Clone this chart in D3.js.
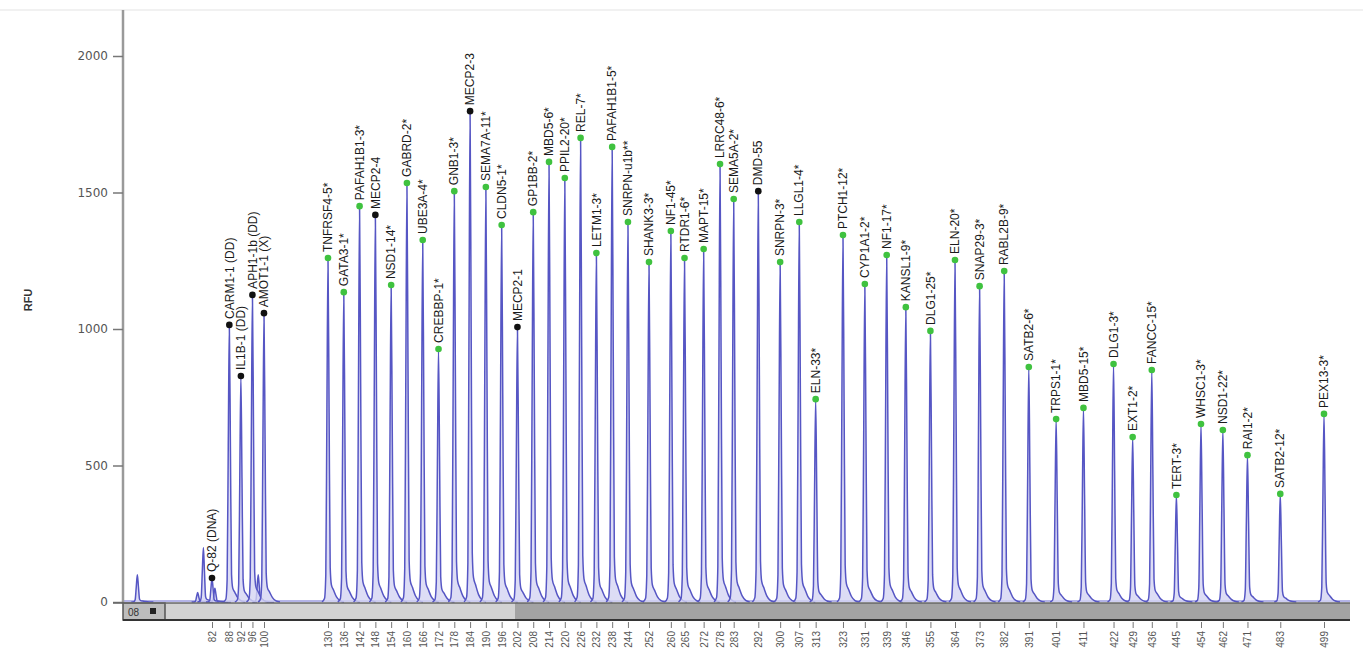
<!DOCTYPE html>
<html>
<head>
<meta charset="utf-8">
<script src="https://cdn.jsdelivr.net/npm/d3@7"></script>
<style>
  body { margin: 0; background: #fff; }
  svg { display: block; font-family: "Liberation Sans", Arial, sans-serif; }
</style>
</head>
<body>
<div id="chart"></div>
<script>
// fragment sizes (bp) and peak heights (RFU)

// control fragments at the start of the run
let earlySizes = [82, 88, 92, 96, 100];
let earlyHeights = [88, 1015, 828, 1125, 1058];
let earlyLabels = ["Q-82 (DNA)", "CARM1-1 (DD)", "IL1B-1 (DD)", "APH1-1b (DD)", "AMOT1-1 (X)"];

// small unlabelled peaks
let minorSizes = [56, 77, 79, 83, 98];
let minorHeights = [100, 35, 200, 50, 100];

// probe peaks
let probeSizes = [130, 136, 142, 148, 154, 160, 166, 172, 178, 184, 190, 196, 202, 208, 214,
  220, 226, 232, 238, 244, 252, 260, 265, 272, 278, 283, 292, 300, 307, 313, 323, 331, 339,
  346, 355, 364, 373, 382, 391, 401, 411, 422, 429, 436, 445, 454, 462, 471, 483, 499];
let probeHeights = [1260, 1135, 1450, 1418, 1161, 1535, 1326, 927, 1505, 1798, 1520, 1381, 1007,
  1428, 1612, 1553, 1700, 1278, 1667, 1392, 1245, 1359, 1260, 1293, 1604, 1476, 1505, 1245,
  1392, 743, 1344, 1165, 1271, 1080, 993, 1253, 1157, 1212, 861, 670, 711, 872, 604, 850, 392,
  652, 630, 538, 396, 689];
let probeLabels = ["TNFRSF4-5*", "GATA3-1*", "PAFAH1B1-3*", "MECP2-4", "NSD1-14*", "GABRD-2*",
  "UBE3A-4*", "CREBBP-1*", "GNB1-3*", "MECP2-3", "SEMA7A-11*", "CLDN5-1*", "MECP2-1", "GP1BB-2*",
  "MBD5-6*", "PPIL2-20*", "REL-7*", "LETM1-3*", "PAFAH1B1-5*", "SNRPN-u1b**", "SHANK3-3*",
  "NF1-45*", "RTDR1-6*", "MAPT-15*", "LRRC48-6*", "SEMA5A-2*", "DMD-55", "SNRPN-3*", "LLGL1-4*",
  "ELN-33*", "PTCH1-12*", "CYP1A1-2*", "NF1-17*", "KANSL1-9*", "DLG1-25*", "ELN-20*", "SNAP29-3*",
  "RABL2B-9*", "SATB2-6*", "TRPS1-1*", "MBD5-15*", "DLG1-3*", "EXT1-2*", "FANCC-15*", "TERT-3*",
  "WHSC1-3*", "NSD1-22*", "RAI1-2*", "SATB2-12*", "PEX13-3*"];

let yTicks = [0, 500, 1000, 1500, 2000];

let W = 1363, H = 662;

// size calibration of the run (bp -> px) is not linear, so a piecewise scale
let x = d3.scaleLinear()
  .domain([51, 82, 100, 130, 252, 364, 499, 508])
  .range([123, 212, 264, 328, 649, 955, 1324, 1350]);

let y = d3.scaleLinear()
  .domain([0, 2000])
  .range([602, 56]);

let svg = d3.select("#chart")
  .append("svg")
    .attr("width", W)
    .attr("height", H);

svg.append("rect").attr("width", W).attr("height", H).attr("fill", "#fff");

// faint top border
svg.append("line")
  .attr("x1", 0).attr("x2", W)
  .attr("y1", 10).attr("y2", 10)
  .attr("stroke", "#ececec")
  .attr("stroke-width", 1.5);

let peaks = [];
minorSizes.forEach((s, i) => peaks.push({ size: s, rfu: minorHeights[i], label: null }));
earlySizes.forEach((s, i) => peaks.push({ size: s, rfu: earlyHeights[i], label: earlyLabels[i], ctrl: true }));
probeSizes.forEach((s, i) => peaks.push({ size: s, rfu: probeHeights[i], label: probeLabels[i],
  ctrl: !probeLabels[i].endsWith("*") }));

// peak shape: sharp spike with a short tail on the right (dx in px, fraction of height)
let shape = [[-6, 0], [-3.5, 0.01], [-2.2, 0.08], [-1.1, 0.55], [0, 1], [1.1, 0.55],
  [2.2, 0.1], [3.4, 0.05], [5.5, 0.035], [8.5, 0.015], [12, 0.004], [16, 0]];

let line = d3.line()
  .x(p => p[0])
  .y(p => p[1])
  .curve(d3.curveMonotoneX);

// baseline trace
svg.append("line")
  .attr("x1", x(51)).attr("x2", 1350)
  .attr("y1", y(0) - 1).attr("y2", y(0) - 1)
  .attr("stroke", "#6a6ad0")
  .attr("stroke-width", 1);

svg.append("g")
  .selectAll("path")
  .data(peaks)
  .join("path")
    .attr("d", d => line(shape.map(s => [x(d.size) + s[0], y(d.rfu * s[1])])))
    .attr("fill", "#d4d4f2")
    .attr("fill-opacity", 0.8)
    .attr("stroke", "#5656c4")
    .attr("stroke-width", 1.5);

// y axis
svg.append("line")
  .attr("x1", 123).attr("x2", 123)
  .attr("y1", 10).attr("y2", 604)
  .attr("stroke", "#9a9a9a")
  .attr("stroke-width", 2.5);

let yAxis = svg.append("g")
  .attr("transform", "translate(123,0)")
  .call(d3.axisLeft(y).tickValues(yTicks).tickSize(10).tickPadding(5).tickFormat(d3.format("d")));
yAxis.select(".domain").remove();
yAxis.selectAll(".tick line").attr("stroke", "#777").attr("stroke-width", 1.5);
yAxis.selectAll(".tick text")
  .attr("fill", "#555")
  .style("font-size", "12px")
  .style("font-family", "Verdana, 'DejaVu Sans', sans-serif");

svg.append("text")
  .attr("transform", "translate(32,300) rotate(-90)")
  .attr("text-anchor", "middle")
  .style("font-size", "11px")
  .style("font-weight", "bold")
  .attr("fill", "#333")
  .text("RFU");

// markers and probe labels
let labelled = peaks.filter(d => d.label);

svg.append("g")
  .selectAll("text")
  .data(labelled)
  .join("text")
    .attr("transform", d => `translate(${x(d.size)},${y(d.rfu) - 6}) rotate(-90)`)
    .attr("dy", "0.35em")
    .style("font-size", "12px")
    .attr("fill", "#1a1a1a")
    .text(d => d.label);

svg.append("g")
  .selectAll("circle")
  .data(labelled)
  .join("circle")
    .attr("cx", d => x(d.size))
    .attr("cy", d => y(d.rfu))
    .attr("r", 3.3)
    .attr("fill", d => d.ctrl ? "#111" : "#3fc23f");

// scroll bar under the trace
svg.append("rect")
  .attr("x", 165).attr("y", 603).attr("width", 1350 - 165).attr("height", 17)
  .attr("fill", "#a3a3a3");
svg.append("rect")
  .attr("x", 165).attr("y", 603).attr("width", 515 - 165).attr("height", 16)
  .attr("fill", "#d3d3d3");
svg.append("rect")
  .attr("x", 123).attr("y", 603).attr("width", 42).attr("height", 17)
  .attr("fill", "#bdbdbd")
  .attr("stroke", "#555")
  .attr("stroke-width", 1.5);
svg.append("text")
  .attr("x", 128).attr("y", 616)
  .style("font-size", "10px")
  .attr("fill", "#333")
  .text("08");
svg.append("rect")
  .attr("x", 150).attr("y", 608).attr("width", 6).attr("height", 6)
  .attr("fill", "#222");
svg.append("line")
  .attr("x1", 113).attr("x2", 1350)
  .attr("y1", 603).attr("y2", 603)
  .attr("stroke", "#666").attr("stroke-width", 1.5);
svg.append("line")
  .attr("x1", 123).attr("x2", 1350)
  .attr("y1", 620).attr("y2", 620)
  .attr("stroke", "#333").attr("stroke-width", 2);

// size ticks below the bar
let tickSizes = earlySizes.concat(probeSizes);
let xAxis = svg.append("g")
  .attr("transform", "translate(0,622)")
  .call(d3.axisBottom(x).tickValues(tickSizes).tickSize(6).tickPadding(3).tickFormat(d3.format("d")));
xAxis.select(".domain").remove();
xAxis.selectAll(".tick line").attr("stroke", "#777");
xAxis.selectAll(".tick text")
  .attr("transform", "rotate(-90)")
  .attr("text-anchor", "end")
  .attr("x", -9)
  .attr("y", 0)
  .attr("dy", "0.35em")
  .attr("fill", "#555")
  .style("font-size", "10px");
</script>
</body>
</html>
